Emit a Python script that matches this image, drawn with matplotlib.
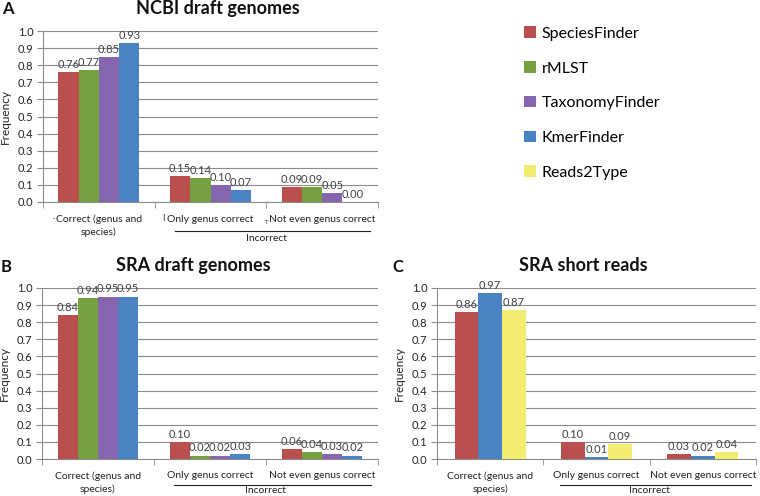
import matplotlib
matplotlib.use("Agg")
import matplotlib.pyplot as plt
import numpy as np
from matplotlib.patches import Patch
from matplotlib.transforms import blended_transform_factory

plt.rcParams['font.family'] = ['Lato', 'DejaVu Sans']

# data
categories = ["Correct (genus and\nspecies)", "Only genus correct", "Not even genus correct"]
tools = ["SpeciesFinder", "rMLST", "TaxonomyFinder", "KmerFinder", "Reads2Type"]
colors = {
    "SpeciesFinder": "#B9504E",
    "rMLST": "#76A140",
    "TaxonomyFinder": "#8565AE",
    "KmerFinder": "#4A82C2",
    "Reads2Type": "#F2EC70",
}

ncbi_tools = ["SpeciesFinder", "rMLST", "TaxonomyFinder", "KmerFinder"]
ncbi_values = [
    [0.76, 0.15, 0.09],
    [0.77, 0.14, 0.09],
    [0.85, 0.10, 0.05],
    [0.93, 0.07, 0.00],
]

sra_draft_tools = ["SpeciesFinder", "rMLST", "TaxonomyFinder", "KmerFinder"]
sra_draft_values = [
    [0.84, 0.10, 0.06],
    [0.94, 0.02, 0.04],
    [0.95, 0.02, 0.03],
    [0.95, 0.03, 0.02],
]

sra_reads_tools = ["SpeciesFinder", "KmerFinder", "Reads2Type"]
sra_reads_values = [
    [0.86, 0.10, 0.03],
    [0.97, 0.01, 0.02],
    [0.87, 0.09, 0.04],
]

W, H = 760, 496
fig = plt.figure(figsize=(W / 100, H / 100), dpi=100)


def px_axes(left, top, right, bottom):
    return fig.add_axes([left / W, 1 - bottom / H, (right - left) / W, (bottom - top) / H])


def draw_panel(ax, names, values, group_width, title, title_x, letter_xy, line_span, line_y, incorrect_y):
    n = len(names)
    bw = group_width / n
    x = np.arange(len(categories))
    for i, (name, vals) in enumerate(zip(names, values)):
        pos = x - group_width / 2 + bw * (i + 0.5)
        ax.bar(pos, vals, width=bw, color=colors[name], zorder=3)
        for p, v in zip(pos, vals):
            ax.annotate(f"{v:.2f}", (p, v), xytext=(0, 1.5), textcoords="offset points",
                        ha="center", va="bottom", fontsize=8, color="#404040", zorder=4)

    ax.set_xlim(-0.5, 2.5)
    ax.set_ylim(0, 1.0)
    ax.set_yticks(np.arange(0, 1.01, 0.1))
    ax.set_yticklabels([f"{t:.1f}" for t in np.arange(0, 1.01, 0.1)], fontsize=8, color="#222222")
    ax.yaxis.grid(True, color="#8c8c8c", linewidth=0.8, zorder=0)
    ax.set_axisbelow(True)
    for s in ["top", "right"]:
        ax.spines[s].set_visible(False)
    for s in ["left", "bottom"]:
        ax.spines[s].set_color("#8c8c8c")
        ax.spines[s].set_linewidth(0.8)
    ax.tick_params(axis="y", length=4, color="#8c8c8c", pad=3)

    ax.set_xticks(x)
    ax.set_xticklabels(categories, fontsize=7.5, color="#222222", linespacing=1.45)
    ax.tick_params(axis="x", which="major", length=0, pad=9)
    ax.set_xticks([-0.5, 0.5, 1.5, 2.5], minor=True)
    ax.tick_params(axis="x", which="minor", length=4, color="#8c8c8c")

    ax.set_ylabel("Frequency", fontsize=8.5, color="#222222", labelpad=5)
    ax.text(title_x, 1.13, title, transform=ax.transAxes, ha="center", va="center",
            fontsize=13, fontweight="bold", color="#111111")
    fig.text(letter_xy[0] / W, 1 - letter_xy[1] / H, letter_xy[2], ha="center", va="center",
             fontsize=12, fontweight="bold", color="#111111")

    trans = blended_transform_factory(ax.transData, ax.transAxes)
    ax.plot(line_span, [line_y, line_y], transform=trans, color="#222222",
            linewidth=0.8, clip_on=False)
    ax.text(1.5, incorrect_y, "Incorrect", transform=trans, ha="center", va="center",
            fontsize=7.5, color="#222222", clip_on=False)
    return trans


axA = px_axes(43, 31, 378, 202)
transA = draw_panel(axA, ncbi_tools, ncbi_values, 0.725, "NCBI draft genomes", 0.522,
                    (8, 9, "A"), [0.68, 2.43], -0.168, -0.215)
# small stray legend-key glyphs in front of the category labels of panel A
axA.text(-0.4, -0.095, "-", transform=transA, ha="center", va="center", fontsize=5, color="#333333")
axA.text(0.575, -0.095, "I", transform=transA, ha="center", va="center", fontsize=6.5, color="#333333")
axA.text(1.5, -0.12, "T", transform=transA, ha="center", va="center", fontsize=4.5, color="#333333")

axB = px_axes(42, 288, 378, 459)
draw_panel(axB, sra_draft_tools, sra_draft_values, 0.72, "SRA draft genomes", 0.45,
           (6, 267, "B"), [0.68, 2.44], -0.152, -0.185)

axC = px_axes(437, 288, 756, 459)
draw_panel(axC, sra_reads_tools, sra_reads_values, 0.67, "SRA short reads", 0.46,
           (398, 267, "C"), [0.66, 2.45], -0.152, -0.185)

handles = [Patch(facecolor=colors[t], edgecolor="none") for t in tools]
fig.legend(handles, tools, loc="upper left", bbox_to_anchor=(518 / W, 1 - 20 / H),
           frameon=False, fontsize=11.5, labelspacing=1.27, handlelength=0.75,
           handleheight=0.75, handletextpad=0.35, borderaxespad=0)

fig.savefig("out.png", dpi=100, facecolor="white")
